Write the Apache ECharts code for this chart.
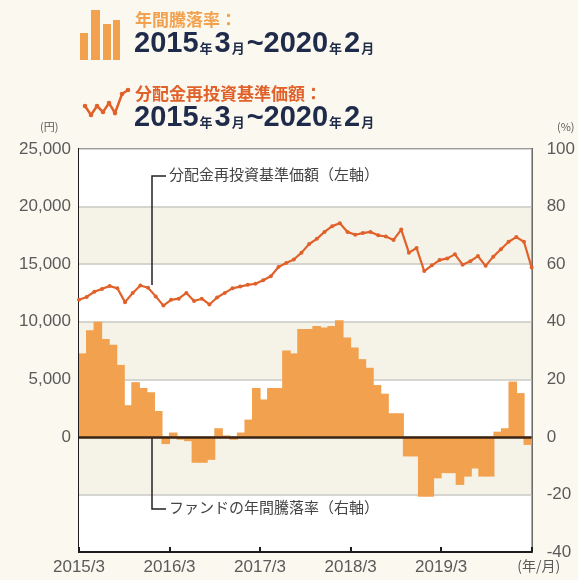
<!DOCTYPE html>
<html><head><meta charset="utf-8">
<script src="https://cdn.jsdelivr.net/npm/echarts@6/dist/echarts.min.js"></script>
<style>html,body{margin:0;padding:0;background:#fbf9ef;}#c{width:578px;height:580px;}</style>
</head><body><div id="c"></div>
<script>
const months = [
 '2015/3','2015/4','2015/5','2015/6','2015/7','2015/8','2015/9','2015/10','2015/11','2015/12','2016/1','2016/2',
 '2016/3','2016/4','2016/5','2016/6','2016/7','2016/8','2016/9','2016/10','2016/11','2016/12','2017/1','2017/2',
 '2017/3','2017/4','2017/5','2017/6','2017/7','2017/8','2017/9','2017/10','2017/11','2017/12','2018/1','2018/2',
 '2018/3','2018/4','2018/5','2018/6','2018/7','2018/8','2018/9','2018/10','2018/11','2018/12','2019/1','2019/2',
 '2019/3','2019/4','2019/5','2019/6','2019/7','2019/8','2019/9','2019/10','2019/11','2019/12','2020/1','2020/2'
];
// 年間騰落率 (%) - right axis
const annualReturn = [
 29, 37, 40, 34, 32, 25, 11, 19, 17, 15.5, 9, -2.5,
 1.5, -1, -1.5, -9, -9, -8, 3, 0.5, -1, 1.5, 6, 17,
 13, 17, 17, 30, 29, 37.5, 37.5, 38.5, 38, 38.5, 40.5, 34.5,
 31, 27, 24, 18, 15, 8.2, 8.2, -6.8, -6.8, -20.8, -20.8, -14.4,
 -12.6, -12.6, -16.7, -13.8, -11, -13.8, -13.8, 1.8, 3, 19.2, 15.2, -2.8
];
// 分配金再投資基準価額 (円) - left axis
const navReinvested = [
 11900, 12150, 12600, 12850, 13100, 12900, 11700, 12500, 13150, 12950, 12200, 11400,
 11900, 12000, 12500, 11800, 12000, 11500, 12100, 12500, 12900, 13050, 13200, 13300,
 13600, 13950, 14750, 15100, 15400, 16000, 16750, 17200, 17800, 18300, 18550, 17800,
 17550, 17700, 17800, 17500, 17400, 17100, 18000, 16000, 16400, 14400, 14900, 15350,
 15500, 15850, 14950, 15250, 15700, 14850, 15650, 16300, 16950, 17350, 16950, 14700
];
const xTickLabels = ['2015/3','2016/3','2017/3','2018/3','2019/3','(年/月)'];

const FF = "'Liberation Sans','Noto Sans',sans-serif";
const JF = "'Noto Sans CJK JP','Noto Sans',sans-serif";
const BAR = '#f2a14f', LINE = '#e1612b', NAVY = '#1f2b4a', LBL = '#5a5a5a';
const commas = v => String(v).replace(/\B(?=(\d{3})+(?!\d))/g, ',');

const dateRich = {
  d: {fontSize: 29, fontWeight: 'bold', fill: NAVY, fontFamily: "'Liberation Sans','Noto Sans',sans-serif"},
  s: {fontSize: 13, fontWeight: 'bold', fill: NAVY, fontFamily: JF, padding: [9, 2, 0, 1]}
};
const dateText = '{d|2015}{s|年}{d|3}{s|月}{d|~2020}{s|年}{d|2}{s|月}';
const iconPts = [[85,106],[91,115],[97,106],[103,112],[109,103],[115,113],[122,94],[128,90]];

const chart = echarts.init(document.getElementById('c'), null, {renderer: 'canvas'});
chart.setOption({
  animation: false,
  backgroundColor: '#fbf9ef',
  grid: {left: 79, right: 35, top: 149, bottom: 28, show: true, borderColor: '#1c1c1c', borderWidth: 2, backgroundColor: 'transparent'},
  xAxis: [
    {type: 'category', data: months, boundaryGap: true, show: false, position: 'bottom'},
    {type: 'category', data: months, boundaryGap: false, show: false, position: 'bottom'},
    {type: 'value', min: 0, max: 60, interval: 12, position: 'bottom',
     axisLine: {show: true, lineStyle: {color: '#1c1c1c', width: 2}},
     axisTick: {show: true, inside: true, length: 5, lineStyle: {color: '#1c1c1c', width: 2}},
     axisLabel: {formatter: v => { const t = xTickLabels[Math.round(v / 12)] || ''; return v >= 60 ? '{u|' + t + '}' : t; },
       rich: {u: {fontSize: 14, color: LBL, fontFamily: JF, padding: [0, 0, 0, 14]}},
       color: LBL, fontSize: 17, margin: 7, fontFamily: FF, showMinLabel: true, showMaxLabel: true},
     splitLine: {show: false}}
  ],
  yAxis: [
    {type: 'value', min: -10000, max: 25000, interval: 5000, position: 'left',
     axisLine: {show: false}, axisTick: {show: false},
     axisLabel: {formatter: v => v < 0 ? '' : commas(v), color: LBL, fontSize: 17, margin: 8, fontFamily: FF},
     splitLine: {show: true, lineStyle: {color: '#c8c8c3', width: 1.5}},
     splitArea: {show: true, areaStyle: {color: ['#ffffff', '#f5f3e8']}}},
    {type: 'value', min: -40, max: 100, interval: 20, position: 'right',
     axisLine: {show: false}, axisTick: {show: false}, splitLine: {show: false},
     axisLabel: {color: LBL, fontSize: 17, margin: 15, fontFamily: FF}}
  ],
  series: [
    {type: 'bar', name: '年間騰落率', xAxisIndex: 0, yAxisIndex: 1, data: annualReturn,
     barWidth: 8.6, itemStyle: {color: BAR},
     markLine: {silent: true, symbol: 'none', label: {show: false},
       lineStyle: {color: '#3a2312', width: 2.5, type: 'solid'}, data: [{yAxis: 0}]}},
    {type: 'line', name: '分配金再投資基準価額', xAxisIndex: 1, yAxisIndex: 0, data: navReinvested,
     symbol: 'circle', symbolSize: 4, showSymbol: true,
     lineStyle: {color: LINE, width: 2.2}, itemStyle: {color: LINE}, z: 5}
  ],
  graphic: [
    // header: bar icon
    {type: 'rect', shape: {x: 80, y: 33, width: 8, height: 27}, style: {fill: BAR}},
    {type: 'rect', shape: {x: 91, y: 10, width: 9, height: 50}, style: {fill: BAR}},
    {type: 'rect', shape: {x: 103, y: 24, width: 8, height: 36}, style: {fill: BAR}},
    {type: 'rect', shape: {x: 113, y: 20, width: 7, height: 40}, style: {fill: BAR}},
    {type: 'text', x: 135, y: 11, style: {text: '年間騰落率：', fill: BAR, fontSize: 17, fontWeight: 'bold', fontFamily: JF}},
    {type: 'text', x: 134, y: 29, style: {text: dateText, rich: dateRich}},
    // header: line icon
    {type: 'polyline', shape: {points: iconPts}, style: {stroke: LINE, lineWidth: 2.5, fill: null}},
    {type: 'group', children: iconPts.map(p => ({type: 'circle', shape: {cx: p[0], cy: p[1], r: 2.3}, style: {fill: LINE}}))},
    {type: 'text', x: 135, y: 85, style: {text: '分配金再投資基準価額：', fill: LINE, fontSize: 17, fontWeight: 'bold', fontFamily: JF}},
    {type: 'text', x: 134, y: 103, style: {text: dateText, rich: dateRich}},
    // axis units
    {type: 'text', x: 40, y: 121, style: {text: '(円)', fill: LBL, fontSize: 11, fontFamily: JF}},
    {type: 'text', x: 557, y: 121, style: {text: '(%)', fill: LBL, fontSize: 11, fontFamily: JF}},
    // callouts
    {type: 'polyline', shape: {points: [[152,285],[152,176],[166,176]]}, style: {stroke: '#222', lineWidth: 1.5, fill: null}, z: 10},
    {type: 'text', x: 169, y: 167, style: {text: '分配金再投資基準価額（左軸）', fill: '#444', fontSize: 15, fontFamily: JF}, z: 10},
    {type: 'polyline', shape: {points: [[152,438],[152,509],[166,509]]}, style: {stroke: '#222', lineWidth: 1.5, fill: null}, z: 10},
    {type: 'text', x: 169, y: 500, style: {text: 'ファンドの年間騰落率（右軸）', fill: '#444', fontSize: 15, fontFamily: JF}, z: 10}
  ]
});
</script>
</body></html>
